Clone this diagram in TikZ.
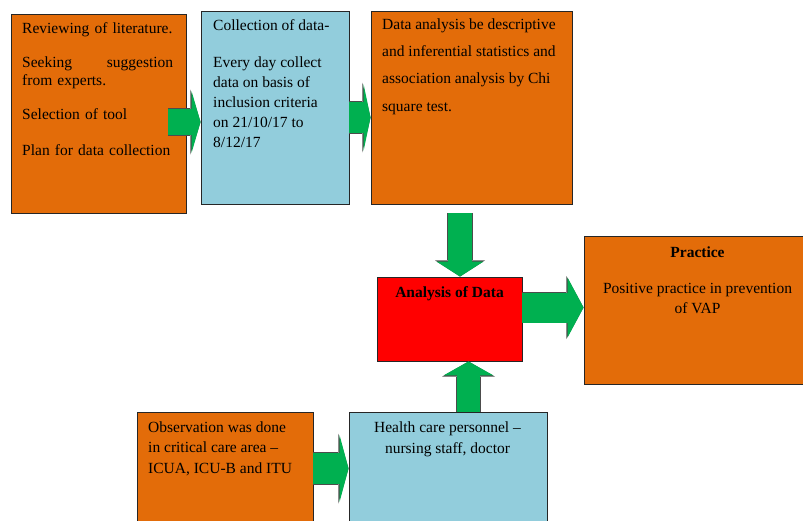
\documentclass[tikz,border=0pt]{standalone}
\usepackage{fontspec}
\setmainfont{Liberation Serif}
\usetikzlibrary{arrows.meta}

\definecolor{boxorange}{HTML}{E36C09}
\definecolor{boxblue}{HTML}{92CDDC}
\definecolor{arrowgreen}{HTML}{00B050}

\begin{document}
\begin{tikzpicture}[x=1pt,y=-1pt,
  box/.style={draw=black!85, line width=0.9pt, inner sep=0pt},
  txt/.style={inner sep=0pt, font=\fontsize{15.5}{18}\selectfont},
  fat/.style n args={3}{line width=#1, arrowgreen,
    -{Triangle[width=#2,length=#3,line width=0pt]},
    preaction={draw=black!70, line width=#1+1.6pt,
      -{Triangle[width=#2+3pt,length=#3+1.2pt,line width=0pt]}}}]
\clip (0,0) rectangle (803,520);

% boxes
\node[box, fill=boxorange, minimum width=175pt, minimum height=199pt] (b1) at (98.5,113.5) {};
\node[box, fill=boxblue, minimum width=148pt, minimum height=193pt] (b2) at (275,107.5) {};
\node[box, fill=boxorange, minimum width=201pt, minimum height=193pt] (b3) at (471.5,107.5) {};
\node[box, fill=red, minimum width=145pt, minimum height=84pt] (ana) at (449.5,319) {};
\node[box, fill=boxorange, minimum width=240pt, minimum height=148pt] (prac) at (704,310) {};
\node[box, fill=boxorange, minimum width=176pt, minimum height=128pt] (obs) at (225,476) {};
\node[box, fill=boxblue, minimum width=198pt, minimum height=128pt] (hcp) at (448,476) {};

% texts
\node[txt, anchor=north west, text width=151pt, align=left] (t1) at (22,22.4)
  {Reviewing of literature.\\[16pt]
   Seeking \hfill suggestion\\
   from experts.\\[16pt]
   Selection of tool\\[18pt]
   Plan for data collection};
\node[txt, anchor=north west, align=left, font=\fontsize{15.5}{20}\selectfont] (t2) at (213,19.4)
  {Collection of data-\\[17pt]
   Every day collect\\
   data on basis of\\
   inclusion criteria\\
   on 21/10/17 to\\
   8/12/17};
\node[txt, anchor=north west, align=left, font=\fontsize{15.5}{27.3}\selectfont] (t3) at (382,18.4)
  {Data analysis be descriptive\\
   and inferential statistics and\\
   association analysis by Chi\\
   square test.};
\node[txt, anchor=base] (t4) at (449.5,297) {\bfseries Analysis of Data};
\node[txt, anchor=north, align=center, font=\fontsize{15.5}{20}\selectfont] (t5) at (697.5,246.4)
  {{\bfseries Practice}\\[16pt]
   Positive practice in prevention\\
   of VAP};
\node[txt, anchor=north west, align=left, font=\fontsize{15.5}{20.5}\selectfont] (t6) at (148,421.4)
  {Observation was done\\
   in critical care area –\\
   ICUA, ICU-B and ITU};
\node[txt, anchor=north, align=center, font=\fontsize{15.5}{21}\selectfont] (t7) at (447.5,421.4)
  {Health care personnel –\\
   nursing staff, doctor};

% arrows
\draw[fat={26pt}{62pt}{9pt}] ([shift={(-18,8.5)}]b1.east) coordinate (a1) -- (a1 -| b2.west);
\draw[fat={31pt}{67pt}{7pt}] ([shift={(0,10)}]b2.east) coordinate (a2) -- (a2 -| b3.west);
\draw[fat={24pt}{47pt}{15pt}] ([shift={(-11.5,9)}]b3.south) coordinate (a3) -- (a3 |- ana.north);
\draw[fat={30pt}{60pt}{16pt}] ([shift={(0,-11.5)}]ana.east) coordinate (a4) -- (a4 -| prac.west);
\draw[fat={23pt}{50pt}{14pt}] ([shift={(20.5,0)}]hcp.north) coordinate (a5) -- (a5 |- ana.south);
\draw[fat={31pt}{67pt}{9pt}] ([shift={(0,-7.5)}]obs.east) coordinate (a6) -- (a6 -| hcp.west);
\end{tikzpicture}
\end{document}
